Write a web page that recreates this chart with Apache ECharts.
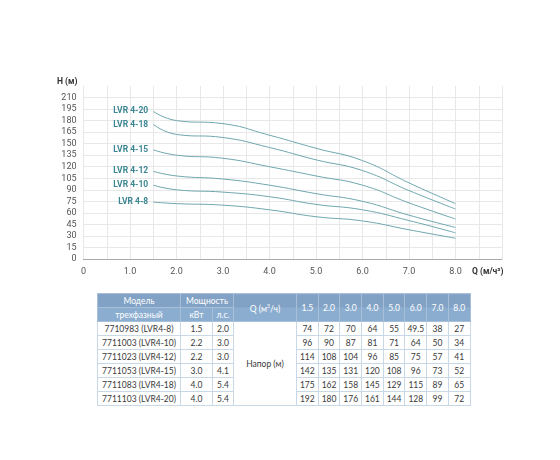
<!DOCTYPE html>
<html>
<head>
<meta charset="utf-8">
<script src="https://cdn.jsdelivr.net/npm/echarts@6/dist/echarts.min.js"></script>
<style>
  html, body { margin: 0; padding: 0; background: #fff; }
  #chart { position: absolute; left: 0; top: 0; width: 560px; height: 290px; }
  #tbl { position: absolute; left: 97px; top: 293px; border-collapse: collapse; font-family: Lato, "Open Sans", sans-serif; font-size: 8.5px; color: #3a3a3a; table-layout: fixed; }
  #tbl td { border: 1px solid #c9d8e6; text-align: center; padding: 0; height: 13px; line-height: 12px; white-space: nowrap; overflow: hidden; }
  #tbl th { font-weight: normal; color: #fff; background: #82a2c5; border: 1px solid #a7bfd8; padding: 0; height: 13px; line-height: 12px; white-space: nowrap; }
  #tbl th.r2 { background: #8badd0; }
  #tbl th.span { background: linear-gradient(#82a2c5 50%, #8badd0 50%); }
</style>
</head>
<body>
<div id="chart"></div>
<table id="tbl"></table>
<script>
const flows = [1.5, 2.0, 3.0, 4.0, 5.0, 6.0, 7.0, 8.0];
const flowLabels = ['1.5', '2.0', '3.0', '4.0', '5.0', '6.0', '7.0', '8.0'];
const curveNames = ['LVR 4-8', 'LVR 4-10', 'LVR 4-12', 'LVR 4-15', 'LVR 4-18', 'LVR 4-20'];
const models = ['7710983 (LVR4-8)', '7711003 (LVR4-10)', '7711023 (LVR4-12)', '7711053 (LVR4-15)', '7711083 (LVR4-18)', '7711103 (LVR4-20)'];
const powerKw = ['1.5', '2.2', '2.2', '3.0', '4.0', '4.0'];
const powerHp = ['2.0', '3.0', '3.0', '4.1', '5.4', '5.4'];
const head_4_8  = [74, 72, 70, 64, 55, 49.5, 38, 27];
const head_4_10 = [96, 90, 87, 81, 71, 64, 50, 34];
const head_4_12 = [114, 108, 104, 96, 85, 75, 57, 41];
const head_4_15 = [142, 135, 131, 120, 108, 96, 73, 52];
const head_4_18 = [175, 162, 158, 145, 129, 115, 89, 65];
const head_4_20 = [192, 180, 176, 161, 144, 128, 99, 72];
const heads = [head_4_8, head_4_10, head_4_12, head_4_15, head_4_18, head_4_20];
const xTicks = ['0', '1.0', '2.0', '3.0', '4.0', '5.0', '6.0', '7.0', '8.0'];

const chart = echarts.init(document.getElementById('chart'));
const lineColor = '#6fa7ae';
const labelColor = '#3b8692';

const series = heads.map((h, i) => ({
  name: curveNames[i],
  type: 'line',
  smooth: 0.5,
  showSymbol: false,
  silent: true,
  lineStyle: { color: lineColor, width: 1 },
  data: flows.map((q, j) => [q, h[j]]),
  markPoint: {
    symbol: 'circle',
    symbolSize: 0.1,
    silent: true,
    itemStyle: { color: 'rgba(0,0,0,0)' },
    label: {
      show: true,
      position: 'left',
      distance: 5,
      formatter: curveNames[i],
      color: labelColor,
      fontFamily: 'Roboto',
      fontWeight: 'bold',
      fontSize: 8.5
    },
    data: [{ coord: [flows[0], h[0]] }]
  }
}));

const splitColors = [];
for (let v = 0; v <= 225; v += 15) splitColors.push(v === 225 ? 'rgba(0,0,0,0)' : '#e8e8e8');

chart.setOption({
  animation: false,
  grid: { left: 83.5, right: 58, top: 86, bottom: 31 },
  xAxis: {
    type: 'value',
    min: 0, max: 9, interval: 0.5,
    name: 'Q (м/ч³)',
    nameLocation: 'end',
    nameGap: -30,
    nameTextStyle: { color: '#333', fontFamily: 'Roboto', fontWeight: 'bold', fontSize: 8.5, verticalAlign: 'top', padding: [8, 0, 0, 0] },
    axisLine: { show: true, lineStyle: { color: '#aaa', width: 1 } },
    axisTick: { show: false },
    splitLine: { show: true, lineStyle: { color: '#e8e8e8', width: 1 } },
    axisLabel: {
      color: '#555', fontFamily: 'Roboto', fontSize: 9, margin: 8,
      formatter: v => (Number.isInteger(v) && v <= 8) ? xTicks[v] : ''
    }
  },
  yAxis: {
    type: 'value',
    min: 0, max: 225, interval: 15,
    name: 'H (м)',
    nameLocation: 'end',
    nameGap: 0,
    nameTextStyle: { color: '#333', fontFamily: 'Roboto', fontWeight: 'bold', fontSize: 8.5, align: 'right', padding: [0, 6, 0, 0] },
    axisLine: { show: false },
    axisTick: { show: false },
    splitLine: { show: true, lineStyle: { color: splitColors, width: 1 } },
    axisLabel: {
      color: '#555', fontFamily: 'Roboto', fontSize: 9, margin: 7,
      formatter: v => v === 225 ? '' : String(v)
    }
  },
  series: series
});

// Table
const tbl = document.getElementById('tbl');
const colW = [83, 32, 21, 63].concat(flows.map(() => 21.7));
let html = '<colgroup>' + colW.map(w => '<col style="width:' + w + 'px">').join('') + '</colgroup>';
html += '<tr><th>Модель</th><th colspan="2">Мощность</th><th rowspan="2" class="span">Q (м<sup style="font-size:5px">3</sup>/ч)</th>' +
  flowLabels.map(f => '<th rowspan="2" class="span">' + f + '</th>').join('') + '</tr>';
html += '<tr><th class="r2">трехфазный</th><th class="r2">кВт</th><th class="r2">л.с.</th></tr>';
models.forEach((m, i) => {
  html += '<tr><td>' + m + '</td><td>' + powerKw[i] + '</td><td>' + powerHp[i] + '</td>';
  if (i === 0) html += '<td rowspan="' + models.length + '">Напор (м)</td>';
  html += heads[i].map(v => '<td>' + v + '</td>').join('') + '</tr>';
});
tbl.innerHTML = html;
</script>
</body>
</html>
